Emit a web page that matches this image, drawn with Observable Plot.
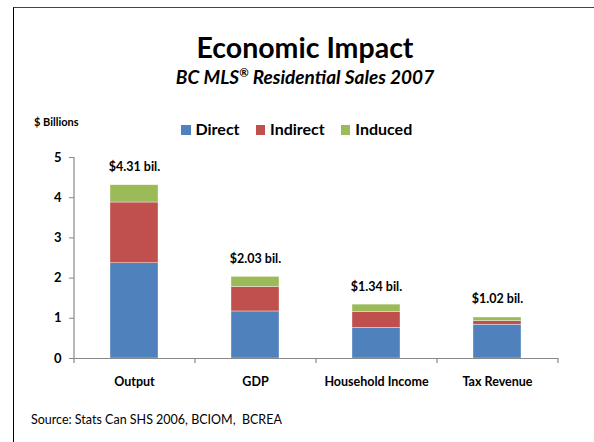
<!DOCTYPE html>
<html>
<head>
<meta charset="utf-8">
<script src="https://cdn.jsdelivr.net/npm/d3@7"></script>
<script src="https://cdn.jsdelivr.net/npm/@observablehq/plot@0.6"></script>
<style>
  html, body { margin: 0; padding: 0; background: #fff; width: 594px; height: 442px; overflow: hidden; font-family: Lato, "Open Sans", sans-serif; }
  #frame { position: absolute; left: 13px; top: 7px; width: 700px; height: 600px; border-left: 1.5px solid #000; border-top: 1.5px solid #444; }
  .abs { position: absolute; white-space: nowrap; }
  #title { left: 0; width: 610px; text-align: center; top: 33px; font-size: 28.5px; line-height: 1; font-weight: 700; color: #000; }
  #subtitle { left: 0; width: 610px; text-align: center; top: 67px; font-size: 19px; line-height: 1; font-weight: 700; font-style: italic; color: #000; }
  #subtitle sup { font-size: 0.6em; vertical-align: 0.6em; line-height: 0; }
  #ylabel { left: 34px; top: 115px; font-size: 11px; font-weight: 700; }
  #legend { left: 181px; top: 119px; display: flex; align-items: center; font-size: 16px; font-weight: 700; }
  #legend .sw { display: inline-block; width: 9.5px; height: 9.5px; margin-right: 5px; margin-top: 3px; }
  #legend .item { display: flex; align-items: center; margin-right: 16px; }
  #source { left: 31px; top: 412px; font-size: 12.5px; color: #000; }
  #chart { position: absolute; left: 0; top: 140px; }
</style>
</head>
<body>
<div id="frame"></div>
<div id="title" class="abs">Economic Impact</div>
<div id="subtitle" class="abs">BC MLS<sup>®</sup> Residential Sales 2007</div>
<div id="ylabel" class="abs">$ Billions</div>
<div id="legend" class="abs"></div>
<div id="source" class="abs">Source: Stats Can SHS 2006, BCIOM,&nbsp; BCREA</div>
<div id="chart"></div>
<script>
const categories = ["Output", "GDP", "Household Income", "Tax Revenue"];
const series = ["Direct", "Indirect", "Induced"];
const colors = ["#4F81BD", "#C0504D", "#9BBB59"];
const direct   = [2.37, 1.17, 0.76, 0.84];
const indirect = [1.51, 0.61, 0.40, 0.09];
const induced  = [0.43, 0.25, 0.18, 0.09];
const totals = [4.31, 2.03, 1.34, 1.02];
const totalLabels = ["$4.31 bil.", "$2.03 bil.", "$1.34 bil.", "$1.02 bil."];
const yTicks = [0, 1, 2, 3, 4, 5];

const seriesValues = [direct, indirect, induced];
const rows = [];
categories.forEach((c, i) => {
  series.forEach((s, j) => rows.push({category: c, series: s, value: seriesValues[j][i]}));
});
const totalRows = categories.map((c, i) => ({category: c, total: totals[i], label: totalLabels[i]}));

// legend
const legend = document.getElementById("legend");
series.forEach((s, j) => {
  const item = document.createElement("span");
  item.className = "item";
  item.innerHTML = `<span class="sw" style="background:${colors[j]}"></span><span>${s}</span>`;
  legend.appendChild(item);
});

const W = 594, H = 260, mL = 74, mR = 36;
const step = (W - mL - mR) / categories.length;

const chart = Plot.plot({
  width: W,
  height: H,
  marginLeft: mL,
  marginRight: mR,
  marginTop: 17,
  marginBottom: 42,
  style: {fontFamily: "Lato, 'Open Sans', sans-serif", fontSize: "12.5px", fontWeight: "bold", color: "#000", background: "transparent"},
  x: {domain: categories, paddingInner: 0.6, paddingOuter: 0.3, label: null},
  y: {domain: [0, 5], label: null},
  color: {domain: series, range: colors},
  marks: [
    Plot.barY(rows, {x: "category", y: "value", fill: "series", stroke: "#fff", strokeWidth: 0.6, strokeOpacity: 0.6}),
    Plot.ruleY([0], {stroke: "#888", strokeWidth: 1.2}),
    Plot.ruleX([categories[0]], {x: d => d, y1: 0, y2: 5, dx: -step / 2, stroke: "#888", strokeWidth: 1.2}),
    Plot.ruleX(categories, {x: d => d, y1: 0, y2: 0, insetBottom: -5, dx: -step / 2, stroke: "#888", strokeWidth: 1.2}),
    Plot.ruleX([categories[categories.length - 1]], {x: d => d, y1: 0, y2: 0, insetBottom: -5, dx: step / 2, stroke: "#888", strokeWidth: 1.2}),
    Plot.axisY({ticks: yTicks, tickSize: 5, tickPadding: 8, stroke: "#888", fontSize: 13, fontWeight: "bold", label: null, tickFormat: d => d}),
    Plot.axisX({tickSize: 0, tickPadding: 19, fontSize: 12.5, fontWeight: "bold", label: null}),
    Plot.text(totalRows, {x: "category", y: "total", text: "label", dy: -18, fontSize: 12.5, fontWeight: "bold", fill: "#000"})
  ]
});
document.getElementById("chart").appendChild(chart);
</script>
</body>
</html>
